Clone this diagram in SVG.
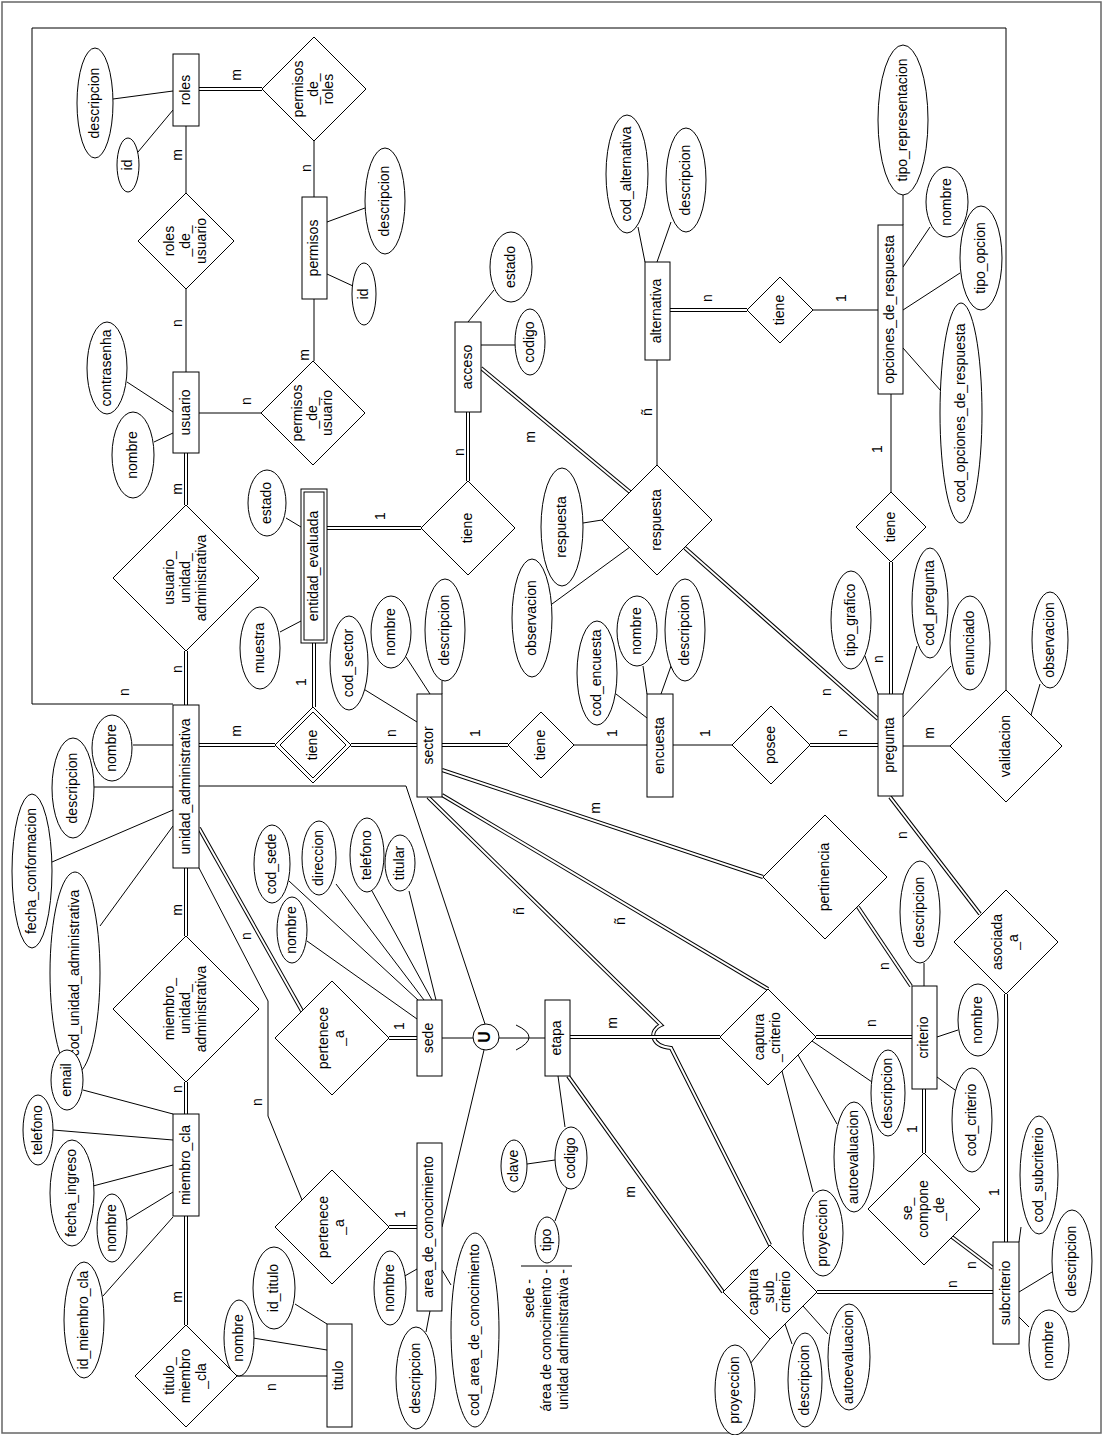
<svg xmlns="http://www.w3.org/2000/svg" xmlns:xlink="http://www.w3.org/1999/xlink" width="1103" height="1435" viewBox="0 0 1103 1435">
<style>
.t{font-family:"Liberation Sans",Arial,sans-serif;font-size:14px;text-anchor:middle;dominant-baseline:middle;fill:#000}
.e{fill:#fff;stroke:#000;stroke-width:1}
.s{fill:none;stroke:#000;stroke-width:1}
.o{fill:none;stroke:#000;stroke-width:4}
.i{fill:none;stroke:#fff;stroke-width:2}
</style>
<defs>
<path id="d1" d="M199,89 H262"/>
<path id="d2" d="M186,453 V505"/>
<path id="d3" d="M186,651 V705"/>
<path id="d4" d="M327,528 H421"/>
<path id="d5" d="M468,481 V412"/>
<path id="d6" d="M481,368 L630,492"/>
<path id="d7" d="M685,548 L878,719"/>
<path id="d8" d="M670,310 H747"/>
<path id="d9" d="M891,562 V694"/>
<path id="d10" d="M314,643 V707"/>
<path id="d11" d="M199,745 H275"/>
<path id="d12" d="M351,745 H417"/>
<path id="d13" d="M442,745 H508"/>
<path id="d14" d="M810,745 H878"/>
<path id="d15" d="M442,770 L763,877"/>
<path id="d16" d="M442,795 L768,989"/>
<path id="d17" d="M428,797 L661,1025 C649,1030 650,1046 671,1048 L770,1245"/>
<path id="d18" d="M570,1037 H720"/>
<path id="d19" d="M816,1037 H912"/>
<path id="d20" d="M858,907 L911,986"/>
<path id="d21" d="M890,797 L980,914"/>
<path id="d22" d="M1006,994 V1242"/>
<path id="d23" d="M924,1089 V1153"/>
<path id="d24" d="M952,1237 L993,1268"/>
<path id="d25" d="M568,1076 L723,1292"/>
<path id="d26" d="M817,1292 H993"/>
<path id="d27" d="M186,868 V936"/>
<path id="d28" d="M186,1082 V1114"/>
<path id="d29" d="M186,1216 V1325"/>
<path id="d30" d="M199,828 L302,1011"/>
<path id="d31" d="M389,1038 H417"/>
<path id="d32" d="M389,1227 H417"/>
</defs>
<rect x="2" y="2" width="1099" height="1431" fill="#fff" stroke="#666" stroke-width="1.5"/>
<g id="connectors">
<path class="s" d="M173,704 H32 V28 H1006 V690"/>
<path class="s" d="M314,141 V197"/>
<path class="s" d="M186,126 V193"/>
<path class="s" d="M186,289 V372"/>
<path class="s" d="M199,413 H261"/>
<path class="s" d="M314,299 V361"/>
<path class="s" d="M657,465 V360"/>
<path class="s" d="M813,310 H878"/>
<path class="s" d="M891,394 V492"/>
<path class="s" d="M903,746 H950"/>
<path class="s" d="M574,745 H647"/>
<path class="s" d="M673,745 H732"/>
<path class="s" d="M237,1376 H327"/>
<path class="s" d="M199,868 L268,1001 V1116 L302,1200"/>
<path class="s" d="M442,1038 H473"/>
<path class="s" d="M499,1038 H545"/>
<path class="s" d="M516,1025 Q542,1037 516,1050"/>
<path class="s" d="M199,786 H406 L485,1024"/>
<path class="s" d="M484,1050 L442,1227"/>
<g id="attr-lines">
<path class="s" d="M113,99 L173,91 M138,152 L173,110"/>
<path class="s" d="M327,222 L365,208 M327,274 L353,286"/>
<path class="s" d="M127,382 L173,412 M154,442 L173,433"/>
<path class="s" d="M286,518 L301,527 M280,632 L301,621"/>
<path class="s" d="M494,290 L468,322 M481,345 L515,345"/>
<path class="s" d="M583,523 L602,520 M552,604 L630,547"/>
<path class="s" d="M638,227 L645,262 M671,222 L657,262"/>
<path class="s" d="M903,195 V225 M930,227 L903,267 M960,273 L903,310 M903,348 L941,391"/>
<path class="s" d="M865,656 L878,694 M917,646 L903,694 M951,666 L903,717"/>
<path class="s" d="M1040,684 L1031,715"/>
<path class="s" d="M133,745 H173 M94,787 H173 M52,862 L173,810 M100,926 L173,826"/>
<path class="s" d="M362,688 L417,722 M406,657 L430,694 M442,681 V694"/>
<path class="s" d="M616,694 L647,718 M643,666 L647,694 M671,666 L661,694"/>
<path class="s" d="M83,1090 L173,1114 M53,1130 L173,1140 M93,1186 L173,1165 M127,1220 L173,1192 M103,1296 L173,1217"/>
<path class="s" d="M253,1338 L327,1350 M295,1304 L327,1324"/>
<path class="s" d="M289,881 L418,1000 M336,884 L424,1000 M372,891 L432,1000 M409,891 L436,1000 M307,941 L417,1019"/>
<path class="s" d="M558,1076 L565,1127 M527,1164 L555,1160 M555,1221 L567,1188"/>
<path class="s" d="M403,1277 L417,1269 M426,1332 L430,1311 M451,1285 L442,1270"/>
<path class="s" d="M924,963 V986 M958,1030 L937,1037 M937,1077 L955,1090"/>
<path class="s" d="M812,1041 L872,1082 M798,1055 L837,1124 M782,1071 L813,1192"/>
<path class="s" d="M770,1339 L750,1364 M785,1324 L792,1344 M803,1306 L828,1334"/>
<path class="s" d="M1021,1227 L1019,1242 M1052,1272 L1019,1292 M1029,1327 L1019,1317"/>
</g>
<use href="#d1" class="o"/><use href="#d1" class="i"/>
<use href="#d2" class="o"/><use href="#d2" class="i"/>
<use href="#d3" class="o"/><use href="#d3" class="i"/>
<use href="#d4" class="o"/><use href="#d4" class="i"/>
<use href="#d5" class="o"/><use href="#d5" class="i"/>
<use href="#d6" class="o"/><use href="#d6" class="i"/>
<use href="#d7" class="o"/><use href="#d7" class="i"/>
<use href="#d8" class="o"/><use href="#d8" class="i"/>
<use href="#d9" class="o"/><use href="#d9" class="i"/>
<use href="#d10" class="o"/><use href="#d10" class="i"/>
<use href="#d11" class="o"/><use href="#d11" class="i"/>
<use href="#d12" class="o"/><use href="#d12" class="i"/>
<use href="#d13" class="o"/><use href="#d13" class="i"/>
<use href="#d14" class="o"/><use href="#d14" class="i"/>
<use href="#d15" class="o"/><use href="#d15" class="i"/>
<use href="#d16" class="o"/><use href="#d16" class="i"/>
<use href="#d17" class="o"/><use href="#d17" class="i"/>
<use href="#d18" class="o"/><use href="#d18" class="i"/>
<use href="#d19" class="o"/><use href="#d19" class="i"/>
<use href="#d20" class="o"/><use href="#d20" class="i"/>
<use href="#d21" class="o"/><use href="#d21" class="i"/>
<use href="#d22" class="o"/><use href="#d22" class="i"/>
<use href="#d23" class="o"/><use href="#d23" class="i"/>
<use href="#d24" class="o"/><use href="#d24" class="i"/>
<use href="#d25" class="o"/><use href="#d25" class="i"/>
<use href="#d26" class="o"/><use href="#d26" class="i"/>
<use href="#d27" class="o"/><use href="#d27" class="i"/>
<use href="#d28" class="o"/><use href="#d28" class="i"/>
<use href="#d29" class="o"/><use href="#d29" class="i"/>
<use href="#d30" class="o"/><use href="#d30" class="i"/>
<use href="#d31" class="o"/><use href="#d31" class="i"/>
<use href="#d32" class="o"/><use href="#d32" class="i"/>
<g id="cardinalities">
<text class="t" x="237" y="75" transform="rotate(-90 237 75)">m</text>
<text class="t" x="307" y="168" transform="rotate(-90 307 168)">n</text>
<text class="t" x="178" y="155" transform="rotate(-90 178 155)">m</text>
<text class="t" x="178" y="323" transform="rotate(-90 178 323)">n</text>
<text class="t" x="247" y="401" transform="rotate(-90 247 401)">n</text>
<text class="t" x="305" y="355" transform="rotate(-90 305 355)">m</text>
<text class="t" x="178" y="489" transform="rotate(-90 178 489)">m</text>
<text class="t" x="178" y="669" transform="rotate(-90 178 669)">n</text>
<text class="t" x="125" y="692" transform="rotate(-90 125 692)">n</text>
<text class="t" x="381" y="516" transform="rotate(-90 381 516)">1</text>
<text class="t" x="460" y="452" transform="rotate(-90 460 452)">n</text>
<text class="t" x="531" y="437" transform="rotate(-90 531 437)">m</text>
<text class="t" x="648" y="412" transform="rotate(-90 648 412)">ñ</text>
<text class="t" x="827" y="692" transform="rotate(-90 827 692)">n</text>
<text class="t" x="708" y="298" transform="rotate(-90 708 298)">n</text>
<text class="t" x="842" y="298" transform="rotate(-90 842 298)">1</text>
<text class="t" x="878" y="449" transform="rotate(-90 878 449)">1</text>
<text class="t" x="879" y="659" transform="rotate(-90 879 659)">n</text>
<text class="t" x="930" y="733" transform="rotate(-90 930 733)">m</text>
<text class="t" x="237" y="731" transform="rotate(-90 237 731)">m</text>
<text class="t" x="392" y="733" transform="rotate(-90 392 733)">n</text>
<text class="t" x="302" y="682" transform="rotate(-90 302 682)">1</text>
<text class="t" x="476" y="733" transform="rotate(-90 476 733)">1</text>
<text class="t" x="613" y="733" transform="rotate(-90 613 733)">1</text>
<text class="t" x="706" y="733" transform="rotate(-90 706 733)">1</text>
<text class="t" x="843" y="733" transform="rotate(-90 843 733)">n</text>
<text class="t" x="596" y="808" transform="rotate(-90 596 808)">m</text>
<text class="t" x="621" y="921" transform="rotate(-90 621 921)">ñ</text>
<text class="t" x="520" y="911" transform="rotate(-90 520 911)">ñ</text>
<text class="t" x="613" y="1023" transform="rotate(-90 613 1023)">m</text>
<text class="t" x="872" y="1023" transform="rotate(-90 872 1023)">n</text>
<text class="t" x="885" y="966" transform="rotate(-90 885 966)">n</text>
<text class="t" x="903" y="835" transform="rotate(-90 903 835)">n</text>
<text class="t" x="995" y="1192" transform="rotate(-90 995 1192)">1</text>
<text class="t" x="913" y="1129" transform="rotate(-90 913 1129)">1</text>
<text class="t" x="972" y="1265" transform="rotate(-90 972 1265)">n</text>
<text class="t" x="631" y="1192" transform="rotate(-90 631 1192)">m</text>
<text class="t" x="953" y="1284" transform="rotate(-90 953 1284)">n</text>
<text class="t" x="178" y="910" transform="rotate(-90 178 910)">m</text>
<text class="t" x="178" y="1089" transform="rotate(-90 178 1089)">n</text>
<text class="t" x="178" y="1297" transform="rotate(-90 178 1297)">m</text>
<text class="t" x="272" y="1387" transform="rotate(-90 272 1387)">n</text>
<text class="t" x="247" y="936" transform="rotate(-90 247 936)">n</text>
<text class="t" x="258" y="1102" transform="rotate(-90 258 1102)">n</text>
<text class="t" x="400" y="1026" transform="rotate(-90 400 1026)">1</text>
<text class="t" x="401" y="1214" transform="rotate(-90 401 1214)">1</text>
</g>
</g>
<g id="attributes">
<ellipse class="e" cx="95" cy="103" rx="18" ry="55"/><text class="t" x="95" y="103" transform="rotate(-90 95 103)">descripcion</text>
<ellipse class="e" cx="128" cy="165" rx="11" ry="27"/><text class="t" x="128" y="165" transform="rotate(-90 128 165)">id</text>
<ellipse class="e" cx="385" cy="201" rx="20" ry="53"/><text class="t" x="385" y="201" transform="rotate(-90 385 201)">descripcion</text>
<ellipse class="e" cx="364" cy="294" rx="12" ry="31"/><text class="t" x="364" y="294" transform="rotate(-90 364 294)">id</text>
<ellipse class="e" cx="107" cy="368" rx="20" ry="46"/><text class="t" x="107" y="368" transform="rotate(-90 107 368)">contrasenha</text>
<ellipse class="e" cx="133" cy="455" rx="21" ry="43"/><text class="t" x="133" y="455" transform="rotate(-90 133 455)">nombre</text>
<ellipse class="e" cx="267" cy="503" rx="19" ry="33"/><text class="t" x="267" y="503" transform="rotate(-90 267 503)">estado</text>
<ellipse class="e" cx="260" cy="648" rx="20" ry="41"/><text class="t" x="260" y="648" transform="rotate(-90 260 648)">muestra</text>
<ellipse class="e" cx="511" cy="267" rx="21" ry="35"/><text class="t" x="511" y="267" transform="rotate(-90 511 267)">estado</text>
<ellipse class="e" cx="530" cy="342" rx="15" ry="33"/><text class="t" x="530" y="342" transform="rotate(-90 530 342)">codigo</text>
<ellipse class="e" cx="562" cy="527" rx="21" ry="59"/><text class="t" x="562" y="527" transform="rotate(-90 562 527)">respuesta</text>
<ellipse class="e" cx="532" cy="618" rx="20" ry="59"/><text class="t" x="532" y="618" transform="rotate(-90 532 618)">observacion</text>
<ellipse class="e" cx="627" cy="174" rx="21" ry="59"/><text class="t" x="627" y="174" transform="rotate(-90 627 174)">cod_alternativa</text>
<ellipse class="e" cx="686" cy="180" rx="20" ry="52"/><text class="t" x="686" y="180" transform="rotate(-90 686 180)">descripcion</text>
<ellipse class="e" cx="903" cy="120" rx="25" ry="75"/><text class="t" x="903" y="120" transform="rotate(-90 903 120)">tipo_representacion</text>
<ellipse class="e" cx="947" cy="202" rx="21" ry="35"/><text class="t" x="947" y="202" transform="rotate(-90 947 202)">nombre</text>
<ellipse class="e" cx="981" cy="258" rx="21" ry="52"/><text class="t" x="981" y="258" transform="rotate(-90 981 258)">tipo_opcion</text>
<ellipse class="e" cx="961" cy="413" rx="21" ry="110"/><text class="t" x="961" y="413" transform="rotate(-90 961 413)">cod_opciones_de_respuesta</text>
<ellipse class="e" cx="851" cy="620" rx="20" ry="49"/><text class="t" x="851" y="620" transform="rotate(-90 851 620)">tipo_grafico</text>
<ellipse class="e" cx="930" cy="603" rx="18" ry="55"/><text class="t" x="930" y="603" transform="rotate(-90 930 603)">cod_pregunta</text>
<ellipse class="e" cx="970" cy="643" rx="20" ry="47"/><text class="t" x="970" y="643" transform="rotate(-90 970 643)">enunciado</text>
<ellipse class="e" cx="1050" cy="640" rx="18" ry="48"/><text class="t" x="1050" y="640" transform="rotate(-90 1050 640)">observacion</text>
<ellipse class="e" cx="112" cy="748" rx="20" ry="33"/><text class="t" x="112" y="748" transform="rotate(-90 112 748)">nombre</text>
<ellipse class="e" cx="73" cy="788" rx="21" ry="50"/><text class="t" x="73" y="788" transform="rotate(-90 73 788)">descripcion</text>
<ellipse class="e" cx="32" cy="871" rx="20" ry="77"/><text class="t" x="32" y="871" transform="rotate(-90 32 871)">fecha_conformacion</text>
<ellipse class="e" cx="75" cy="973" rx="25" ry="101"/><text class="t" x="75" y="973" transform="rotate(-90 75 973)">cod_unidad_administrativa</text>
<ellipse class="e" cx="349" cy="663" rx="19" ry="47"/><text class="t" x="349" y="663" transform="rotate(-90 349 663)">cod_sector</text>
<ellipse class="e" cx="391" cy="632" rx="20" ry="36"/><text class="t" x="391" y="632" transform="rotate(-90 391 632)">nombre</text>
<ellipse class="e" cx="445" cy="630" rx="20" ry="51"/><text class="t" x="445" y="630" transform="rotate(-90 445 630)">descripcion</text>
<ellipse class="e" cx="597" cy="673" rx="20" ry="52"/><text class="t" x="597" y="673" transform="rotate(-90 597 673)">cod_encuesta</text>
<ellipse class="e" cx="637" cy="631" rx="20" ry="35"/><text class="t" x="637" y="631" transform="rotate(-90 637 631)">nombre</text>
<ellipse class="e" cx="685" cy="630" rx="20" ry="51"/><text class="t" x="685" y="630" transform="rotate(-90 685 630)">descripcion</text>
<ellipse class="e" cx="67" cy="1080" rx="16" ry="30"/><text class="t" x="67" y="1080" transform="rotate(-90 67 1080)">email</text>
<ellipse class="e" cx="38" cy="1130" rx="15" ry="35"/><text class="t" x="38" y="1130" transform="rotate(-90 38 1130)">telefono</text>
<ellipse class="e" cx="72" cy="1193" rx="22" ry="53"/><text class="t" x="72" y="1193" transform="rotate(-90 72 1193)">fecha_ingreso</text>
<ellipse class="e" cx="112" cy="1228" rx="15" ry="34"/><text class="t" x="112" y="1228" transform="rotate(-90 112 1228)">nombre</text>
<ellipse class="e" cx="84" cy="1320" rx="20" ry="58"/><text class="t" x="84" y="1320" transform="rotate(-90 84 1320)">id_miembro_cla</text>
<ellipse class="e" cx="239" cy="1338" rx="15" ry="38"/><text class="t" x="239" y="1338" transform="rotate(-90 239 1338)">nombre</text>
<ellipse class="e" cx="274" cy="1288" rx="21" ry="41"/><text class="t" x="274" y="1288" transform="rotate(-90 274 1288)">id_titulo</text>
<ellipse class="e" cx="272" cy="864" rx="18" ry="39"/><text class="t" x="272" y="864" transform="rotate(-90 272 864)">cod_sede</text>
<ellipse class="e" cx="319" cy="858" rx="17" ry="37"/><text class="t" x="319" y="858" transform="rotate(-90 319 858)">direccion</text>
<ellipse class="e" cx="367" cy="855" rx="17" ry="37"/><text class="t" x="367" y="855" transform="rotate(-90 367 855)">telefono</text>
<ellipse class="e" cx="400" cy="863" rx="15" ry="28"/><text class="t" x="400" y="863" transform="rotate(-90 400 863)">titular</text>
<ellipse class="e" cx="292" cy="930" rx="15" ry="33"/><text class="t" x="292" y="930" transform="rotate(-90 292 930)">nombre</text>
<ellipse class="e" cx="571" cy="1158" rx="16" ry="31"/><text class="t" x="571" y="1158" transform="rotate(-90 571 1158)">codigo</text>
<ellipse class="e" cx="514" cy="1166" rx="13" ry="26"/><text class="t" x="514" y="1166" transform="rotate(-90 514 1166)">clave</text>
<ellipse class="e" cx="547" cy="1240" rx="12" ry="23"/><text class="t" x="547" y="1240" transform="rotate(-90 547 1240)">tipo</text>
<ellipse class="e" cx="390" cy="1288" rx="16" ry="37"/><text class="t" x="390" y="1288" transform="rotate(-90 390 1288)">nombre</text>
<ellipse class="e" cx="416" cy="1378" rx="20" ry="51"/><text class="t" x="416" y="1378" transform="rotate(-90 416 1378)">descripcion</text>
<ellipse class="e" cx="475" cy="1330" rx="24" ry="97"/><text class="t" x="475" y="1330" transform="rotate(-90 475 1330)">cod_area_de_conocimiento</text>
<ellipse class="e" cx="920" cy="912" rx="20" ry="51"/><text class="t" x="920" y="912" transform="rotate(-90 920 912)">descripcion</text>
<ellipse class="e" cx="978" cy="1020" rx="20" ry="36"/><text class="t" x="978" y="1020" transform="rotate(-90 978 1020)">nombre</text>
<ellipse class="e" cx="972" cy="1120" rx="20" ry="52"/><text class="t" x="972" y="1120" transform="rotate(-90 972 1120)">cod_criterio</text>
<ellipse class="e" cx="888" cy="1093" rx="17" ry="43"/><text class="t" x="888" y="1093" transform="rotate(-90 888 1093)">descripcion</text>
<ellipse class="e" cx="854" cy="1157" rx="20" ry="55"/><text class="t" x="854" y="1157" transform="rotate(-90 854 1157)">autoevaluacion</text>
<ellipse class="e" cx="823" cy="1233" rx="20" ry="43"/><text class="t" x="823" y="1233" transform="rotate(-90 823 1233)">proyeccion</text>
<ellipse class="e" cx="735" cy="1390" rx="20" ry="45"/><text class="t" x="735" y="1390" transform="rotate(-90 735 1390)">proyeccion</text>
<ellipse class="e" cx="805" cy="1380" rx="17" ry="47"/><text class="t" x="805" y="1380" transform="rotate(-90 805 1380)">descripcion</text>
<ellipse class="e" cx="849" cy="1357" rx="21" ry="53"/><text class="t" x="849" y="1357" transform="rotate(-90 849 1357)">autoevaluacion</text>
<ellipse class="e" cx="1039" cy="1175" rx="19" ry="59"/><text class="t" x="1039" y="1175" transform="rotate(-90 1039 1175)">cod_subcriterio</text>
<ellipse class="e" cx="1072" cy="1261" rx="20" ry="51"/><text class="t" x="1072" y="1261" transform="rotate(-90 1072 1261)">descripcion</text>
<ellipse class="e" cx="1049" cy="1345" rx="20" ry="35"/><text class="t" x="1049" y="1345" transform="rotate(-90 1049 1345)">nombre</text>
</g>
<g id="roles"><rect class="e" x="173" y="54" width="26" height="72"/><text class="t" x="186" y="90" transform="rotate(-90 186 90)">roles</text></g>
<g id="permisos"><rect class="e" x="302" y="197" width="25" height="102"/><text class="t" x="314.5" y="248" transform="rotate(-90 314.5 248)">permisos</text></g>
<g id="usuario"><rect class="e" x="173" y="372" width="26" height="81"/><text class="t" x="186" y="412.5" transform="rotate(-90 186 412.5)">usuario</text></g>
<g id="entidad_evaluada"><rect class="e" x="301" y="489" width="26" height="154"/><rect class="e" x="304" y="492" width="20" height="148"/><text class="t" x="314" y="566" transform="rotate(-90 314 566)">entidad_evaluada</text></g>
<g id="acceso"><rect class="e" x="455" y="322" width="26" height="90"/><text class="t" x="468" y="367" transform="rotate(-90 468 367)">acceso</text></g>
<g id="alternativa"><rect class="e" x="645" y="262" width="25" height="98"/><text class="t" x="657.5" y="311" transform="rotate(-90 657.5 311)">alternativa</text></g>
<g id="opciones_de_respuesta"><rect class="e" x="878" y="225" width="25" height="169"/><text class="t" x="890.5" y="309.5" transform="rotate(-90 890.5 309.5)">opciones_de_respuesta</text></g>
<g id="pregunta"><rect class="e" x="878" y="694" width="25" height="102"/><text class="t" x="890.5" y="745" transform="rotate(-90 890.5 745)">pregunta</text></g>
<g id="unidad_administrativa"><rect class="e" x="173" y="705" width="26" height="163"/><text class="t" x="186" y="786.5" transform="rotate(-90 186 786.5)">unidad_administrativa</text></g>
<g id="sector"><rect class="e" x="417" y="694" width="25" height="103"/><text class="t" x="429.5" y="745.5" transform="rotate(-90 429.5 745.5)">sector</text></g>
<g id="encuesta"><rect class="e" x="647" y="694" width="26" height="103"/><text class="t" x="660" y="745.5" transform="rotate(-90 660 745.5)">encuesta</text></g>
<g id="miembro_cla"><rect class="e" x="173" y="1114" width="26" height="102"/><text class="t" x="186" y="1165" transform="rotate(-90 186 1165)">miembro_cla</text></g>
<g id="titulo"><rect class="e" x="327" y="1324" width="25" height="103"/><text class="t" x="339.5" y="1375.5" transform="rotate(-90 339.5 1375.5)">titulo</text></g>
<g id="sede"><rect class="e" x="417" y="1000" width="25" height="76"/><text class="t" x="429.5" y="1038" transform="rotate(-90 429.5 1038)">sede</text></g>
<g id="etapa"><rect class="e" x="545" y="1000" width="25" height="76"/><text class="t" x="557.5" y="1038" transform="rotate(-90 557.5 1038)">etapa</text></g>
<g id="area_de_conocimiento"><rect class="e" x="417" y="1143" width="25" height="168"/><text class="t" x="429.5" y="1227" transform="rotate(-90 429.5 1227)">area_de_conocimiento</text></g>
<g id="criterio"><rect class="e" x="912" y="986" width="25" height="103"/><text class="t" x="924.5" y="1037.5" transform="rotate(-90 924.5 1037.5)">criterio</text></g>
<g id="subcriterio"><rect class="e" x="993" y="1242" width="26" height="102"/><text class="t" x="1006" y="1293" transform="rotate(-90 1006 1293)">subcriterio</text></g>
<g id="permisos_de_roles"><polygon class="e" points="314,37 366,89 314,141 262,89"/><text class="t" x="314" y="89" transform="rotate(-90 314 89)"><tspan x="314" dy="-15">permisos</tspan><tspan x="314" dy="15">_de_</tspan><tspan x="314" dy="15">roles</tspan></text></g>
<g id="roles_de_usuario"><polygon class="e" points="186,193 234,241 186,289 138,241"/><text class="t" x="186" y="241" transform="rotate(-90 186 241)"><tspan x="186" dy="-16">roles</tspan><tspan x="186" dy="16">_de_</tspan><tspan x="186" dy="16">usuario</tspan></text></g>
<g id="permisos_de_usuario"><polygon class="e" points="313,361 365,413 313,465 261,413"/><text class="t" x="313" y="413" transform="rotate(-90 313 413)"><tspan x="313" dy="-15">permisos</tspan><tspan x="313" dy="15">_de_</tspan><tspan x="313" dy="15">usuario</tspan></text></g>
<g id="usuario_unidad_administrativa"><polygon class="e" points="186,505 259,578 186,651 113,578"/><text class="t" x="186" y="578" transform="rotate(-90 186 578)"><tspan x="186" dy="-16">usuario_</tspan><tspan x="186" dy="16">unidad_</tspan><tspan x="186" dy="16">administrativa</tspan></text></g>
<g id="tiene_entidad_acceso"><polygon class="e" points="468,481 515,528 468,575 421,528"/><text class="t" x="468" y="528" transform="rotate(-90 468 528)">tiene</text></g>
<g id="respuesta"><polygon class="e" points="657,465 712,520 657,575 602,520"/><text class="t" x="657" y="520" transform="rotate(-90 657 520)">respuesta</text></g>
<g id="tiene_alternativa"><polygon class="e" points="780,277 813,310 780,343 747,310"/><text class="t" x="780" y="310" transform="rotate(-90 780 310)">tiene</text></g>
<g id="tiene_pregunta"><polygon class="e" points="891,492 926,527 891,562 856,527"/><text class="t" x="891" y="527" transform="rotate(-90 891 527)">tiene</text></g>
<g id="validacion"><polygon class="e" points="1006,690 1062,746 1006,802 950,746"/><text class="t" x="1006" y="746" transform="rotate(-90 1006 746)">validacion</text></g>
<g id="tiene_ua_sector"><polygon class="e" points="313,707 351,745 313,783 275,745"/><polygon class="e" points="313,712 346,745 313,778 280,745"/><text class="t" x="313" y="745" transform="rotate(-90 313 745)">tiene</text></g>
<g id="tiene_sector_encuesta"><polygon class="e" points="541,712 574,745 541,778 508,745"/><text class="t" x="541" y="745" transform="rotate(-90 541 745)">tiene</text></g>
<g id="posee"><polygon class="e" points="771,706 810,745 771,784 732,745"/><text class="t" x="771" y="745" transform="rotate(-90 771 745)">posee</text></g>
<g id="pertinencia"><polygon class="e" points="825,815 887,877 825,939 763,877"/><text class="t" x="825" y="877" transform="rotate(-90 825 877)">pertinencia</text></g>
<g id="captura_criterio"><polygon class="e" points="768,989 816,1037 768,1085 720,1037"/><text class="t" x="768" y="1037" transform="rotate(-90 768 1037)"><tspan x="768" dy="-8">captura</tspan><tspan x="768" dy="16">_criterio</tspan></text></g>
<g id="asociada_a"><polygon class="e" points="1006,890 1058,942 1006,994 954,942"/><text class="t" x="1006" y="942" transform="rotate(-90 1006 942)"><tspan x="1006" dy="-8">asociada</tspan><tspan x="1006" dy="16">_a</tspan></text></g>
<g id="miembro_unidad_administrativa"><polygon class="e" points="186,936 259,1009 186,1082 113,1009"/><text class="t" x="186" y="1009" transform="rotate(-90 186 1009)"><tspan x="186" dy="-16">miembro_</tspan><tspan x="186" dy="16">unidad_</tspan><tspan x="186" dy="16">administrativa</tspan></text></g>
<g id="titulo_miembro_cla"><polygon class="e" points="186,1325 237,1376 186,1427 135,1376"/><text class="t" x="186" y="1376" transform="rotate(-90 186 1376)"><tspan x="186" dy="-16">titulo_</tspan><tspan x="186" dy="16">miembro</tspan><tspan x="186" dy="16">_cla</tspan></text></g>
<g id="pertenece_a_sede"><polygon class="e" points="332,981 389,1038 332,1095 275,1038"/><text class="t" x="332" y="1038" transform="rotate(-90 332 1038)"><tspan x="332" dy="-8">pertenece</tspan><tspan x="332" dy="16">_a</tspan></text></g>
<g id="pertenece_a_area"><polygon class="e" points="332,1170 389,1227 332,1284 275,1227"/><text class="t" x="332" y="1227" transform="rotate(-90 332 1227)"><tspan x="332" dy="-8">pertenece</tspan><tspan x="332" dy="16">_a</tspan></text></g>
<g id="se_compone_de"><polygon class="e" points="924,1153 980,1209 924,1265 868,1209"/><text class="t" x="924" y="1209" transform="rotate(-90 924 1209)"><tspan x="924" dy="-16">se_</tspan><tspan x="924" dy="16">compone</tspan><tspan x="924" dy="16">_de</tspan></text></g>
<g id="captura_sub_criterio"><polygon class="e" points="770,1245 817,1292 770,1339 723,1292"/><text class="t" x="770" y="1292" transform="rotate(-90 770 1292)"><tspan x="770" dy="-16">captura</tspan><tspan x="770" dy="16">_sub_</tspan><tspan x="770" dy="16">criterio</tspan></text></g>
<g id="union"><circle class="e" cx="486" cy="1037" r="13"/><text class="t" x="486" y="1037" transform="rotate(-90 486 1037)" style="font-size:16px;font-weight:bold">U</text></g>
<g id="legend">
<path class="s" d="M521,1266 H572"/>
<text class="t" x="530" y="1279" transform="rotate(-90 530 1279)" style="text-anchor:end">sede -</text>
<text class="t" x="547" y="1269" transform="rotate(-90 547 1269)" style="text-anchor:end">área de conocimiento -</text>
<text class="t" x="564" y="1269" transform="rotate(-90 564 1269)" style="text-anchor:end">unidad administrativa -</text>
</g>
</svg>
